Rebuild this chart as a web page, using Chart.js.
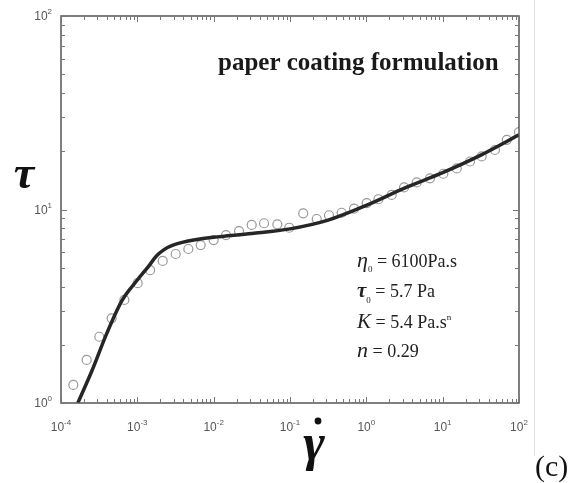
<!DOCTYPE html>
<html lang="en">
<head>
<meta charset="UTF-8">
<title>paper coating formulation</title>
<script src="https://cdn.jsdelivr.net/npm/chart.js"></script>
<style>
  html, body { margin: 0; padding: 0; background: #fff; }
  #wrap { width: 568px; height: 483px; position: relative; }
</style>
</head>
<body>
<div id="wrap"><canvas id="chart" width="568" height="483"></canvas></div>
<script>
// measured points (shear rate, shear stress)
const rateData = [1.45e-4, 2.17e-4, 3.18e-4, 4.61e-4, 6.76e-4, 1.01e-3, 1.47e-3, 2.15e-3, 3.18e-3, 4.66e-3,
  6.76e-3, 0.01, 0.0145, 0.0215, 0.0315, 0.0457, 0.0682, 0.0977, 0.149, 0.224,
  0.324, 0.475, 0.69, 1.01, 1.44, 2.15, 3.12, 4.57, 6.82, 10.2,
  15.3, 22.8, 32.4, 48.5, 69.2, 100];
const stressData = [1.24, 1.67, 2.20, 2.74, 3.41, 4.16, 4.86, 5.42, 5.89, 6.25,
  6.55, 6.95, 7.38, 7.74, 8.32, 8.49, 8.38, 8.05, 9.56, 8.93,
  9.34, 9.62, 10.1, 10.8, 11.3, 11.9, 13.0, 13.8, 14.5, 15.3,
  16.3, 17.7, 18.8, 20.3, 22.9, 25.1];

// fitted model curve
const rateFit = [1.66e-4, 2.51e-4, 3.98e-4, 6.31e-4, 1.0e-3, 1.41e-3, 1.78e-3, 2.24e-3, 2.82e-3, 3.98e-3,
  6.31e-3, 0.01, 0.0316, 0.1, 0.316, 1, 3.16, 10, 31.6, 100];
const stressFit = [1.0, 1.45, 2.29, 3.39, 4.32, 5.1, 5.75, 6.2, 6.5, 6.78,
  7.02, 7.19, 7.52, 7.94, 8.81, 10.5, 12.9, 15.5, 19.1, 24.3];

const xTicks = [1e-4, 1e-3, 1e-2, 1e-1, 1, 10, 100];
const xTickExp = ['-4', '-3', '-2', '-1', '0', '1', '2'];
const yTicks = [1, 10, 100];
const yTickExp = ['0', '1', '2'];

const serif = '"Liberation Serif", "Times New Roman", serif';
const sans = '"Liberation Sans", Arial, sans-serif';

function runs(ctx, x, y, parts) {
  parts.forEach(p => {
    ctx.font = p.font;
    ctx.fillText(p.t, x, y + (p.dy || 0));
    x += ctx.measureText(p.t).width + (p.gap || 0);
  });
}

const framePlugin = {
  id: 'frame',
  afterDraw(chart) {
    const ctx = chart.ctx;
    const a = chart.chartArea;
    const xs = chart.scales.x, ys = chart.scales.y;
    ctx.save();

    // faint border of the source figure
    ctx.strokeStyle = '#e2e2e2';
    ctx.lineWidth = 1;
    ctx.beginPath();
    ctx.moveTo(534.5, 0);
    ctx.lineTo(534.5, 456);
    ctx.stroke();

    // plot box
    ctx.strokeStyle = '#555';
    ctx.lineWidth = 1.5;
    ctx.strokeRect(a.left, a.top, a.right - a.left, a.bottom - a.top);

    // inward ticks, all four sides
    ctx.lineWidth = 1;
    ctx.strokeStyle = '#777';
    ctx.beginPath();
    for (let d = 0; d < xTicks.length; d++) {
      for (let m = 1; m <= 9; m++) {
        const v = xTicks[d] * m;
        if (v > xTicks[xTicks.length - 1]) break;
        const px = Math.round(xs.getPixelForValue(v)) + 0.5;
        const len = m === 1 ? 6 : 4;
        ctx.moveTo(px, a.bottom); ctx.lineTo(px, a.bottom - len);
        ctx.moveTo(px, a.top); ctx.lineTo(px, a.top + len);
      }
    }
    for (let d = 0; d < yTicks.length; d++) {
      for (let m = 1; m <= 9; m++) {
        const v = yTicks[d] * m;
        if (v > yTicks[yTicks.length - 1]) break;
        const py = Math.round(ys.getPixelForValue(v)) + 0.5;
        const len = m === 1 ? 6 : 4;
        ctx.moveTo(a.left, py); ctx.lineTo(a.left + len, py);
        ctx.moveTo(a.right, py); ctx.lineTo(a.right - len, py);
      }
    }
    ctx.stroke();

    // tick labels 10^n
    ctx.fillStyle = '#555';
    ctx.textBaseline = 'alphabetic';
    const big = '12px ' + sans, small = '8px ' + sans;
    xTicks.forEach((v, i) => {
      const px = xs.getPixelForValue(v);
      ctx.font = big;
      const w1 = ctx.measureText('10').width;
      ctx.font = small;
      const w2 = ctx.measureText(xTickExp[i]).width;
      runs(ctx, px - (w1 + w2) / 2, 431, [
        { t: '10', font: big },
        { t: xTickExp[i], font: small, dy: -6 }
      ]);
    });
    yTicks.forEach((v, i) => {
      const py = ys.getPixelForValue(v);
      ctx.font = big;
      const w1 = ctx.measureText('10').width;
      ctx.font = small;
      const w2 = ctx.measureText(yTickExp[i]).width;
      runs(ctx, 52 - w1 - w2, py + 4, [
        { t: '10', font: big },
        { t: yTickExp[i], font: small, dy: -6 }
      ]);
    });

    // axis titles
    ctx.fillStyle = '#111';
    ctx.textAlign = 'center';
    ctx.font = 'bold italic 46px ' + serif;
    ctx.fillText('τ', 24, 188);
    ctx.font = 'bold italic 52px ' + serif;
    ctx.fillText('γ', 314, 460);
    ctx.beginPath();
    ctx.arc(318, 421, 3.4, 0, Math.PI * 2);
    ctx.fill();

    // panel label
    ctx.textAlign = 'left';
    ctx.font = '30px ' + serif;
    ctx.fillText('(c)', 535, 476);

    // title inside plot
    ctx.fillStyle = '#1a1a1a';
    ctx.font = 'bold 25px ' + serif;
    ctx.fillText('paper coating formulation', 218, 70);

    // model parameters
    ctx.fillStyle = '#222';
    const reg = '18px ' + serif;
    const sub = '9px ' + serif;
    runs(ctx, 357, 267, [
      { t: 'η', font: 'italic 22px ' + serif },
      { t: '0', font: sub, dy: 5 },
      { t: ' = 6100Pa.s', font: reg }
    ]);
    runs(ctx, 357, 297, [
      { t: 'τ', font: 'bold italic 21px ' + serif },
      { t: '0', font: sub, dy: 6 },
      { t: ' = 5.7 Pa', font: reg }
    ]);
    runs(ctx, 357, 328, [
      { t: 'K', font: 'italic 21px ' + serif },
      { t: ' = 5.4 Pa.s', font: reg },
      { t: 'n', font: sub, dy: -8 }
    ]);
    runs(ctx, 357, 357, [
      { t: 'n', font: 'italic 22px ' + serif },
      { t: ' = 0.29', font: reg }
    ]);

    ctx.restore();
  }
};

new Chart(document.getElementById('chart'), {
  type: 'scatter',
  data: {
    datasets: [
      {
        label: 'model fit',
        data: rateFit.map((x, i) => ({ x: x, y: stressFit[i] })),
        showLine: true,
        borderColor: '#262626',
        borderWidth: 3.5,
        pointRadius: 0,
        cubicInterpolationMode: 'monotone',
        order: 0
      },
      {
        label: 'data',
        data: rateData.map((x, i) => ({ x: x, y: stressData[i] })),
        showLine: false,
        pointRadius: 4.5,
        pointBorderWidth: 1.2,
        borderColor: '#999',
        backgroundColor: 'rgba(0,0,0,0)',
        order: 1
      }
    ]
  },
  options: {
    responsive: false,
    devicePixelRatio: 1,
    animation: false,
    layout: { padding: { top: 16, right: 49, left: 0, bottom: 0 } },
    plugins: { legend: { display: false }, tooltip: { enabled: false } },
    scales: {
      x: {
        type: 'logarithmic',
        min: 1e-4, max: 100,
        ticks: { display: false },
        grid: { display: false },
        border: { display: false },
        afterFit: s => { s.height = 80; }
      },
      y: {
        type: 'logarithmic',
        min: 1, max: 100,
        ticks: { display: false },
        grid: { display: false },
        border: { display: false },
        afterFit: s => { s.width = 61; }
      }
    }
  },
  plugins: [framePlugin]
});
</script>
</body>
</html>
